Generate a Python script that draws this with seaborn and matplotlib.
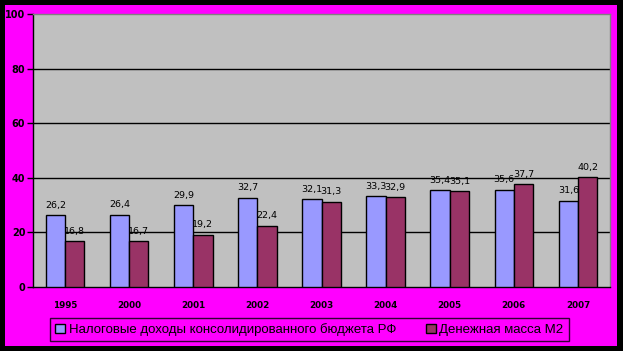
import matplotlib
matplotlib.use("Agg")
import matplotlib.pyplot as plt
import seaborn as sns
import pandas as pd
from matplotlib.patches import Patch

years = ["1995", "2000", "2001", "2002", "2003", "2004", "2005", "2006", "2007"]
tax_revenue = [26.2, 26.4, 29.9, 32.7, 32.1, 33.3, 35.4, 35.6, 31.6]
money_m2 = [16.8, 16.7, 19.2, 22.4, 31.3, 32.9, 35.1, 37.7, 40.2]
series_names = ["Налоговые доходы консолидированного бюджета РФ", "Денежная масса М2"]
colors = ["#9999FF", "#993366"]
yticks = [0, 20, 40, 60, 80, 100]

df = pd.DataFrame({
    "year": years * 2,
    "value": tax_revenue + money_m2,
    "series": [series_names[0]] * len(years) + [series_names[1]] * len(years),
})

sns.set_style("white")
plt.rcParams["font.family"] = ["DejaVu Sans"]
plt.rcParams["text.color"] = "black"
plt.rcParams["xtick.color"] = "black"
plt.rcParams["ytick.color"] = "black"
plt.rcParams["axes.labelcolor"] = "black"

W, H = 623, 351
fig = plt.figure(figsize=(W / 100, H / 100), dpi=100)
fig.patch.set_facecolor("black")

bg = fig.add_axes([5 / W, 5 / H, 612 / W, 341 / H], zorder=-10)
bg.set_facecolor("#FF00FF")
bg.set_xticks([])
bg.set_yticks([])
for s in bg.spines.values():
    s.set_visible(False)

ax = fig.add_axes([33 / W, (H - 287) / H, 577 / W, 273 / H], zorder=1)
ax.set_facecolor("#C0C0C0")

sns.barplot(data=df, x="year", y="value", hue="series", palette=colors, saturation=1,
            edgecolor="black", linewidth=1, width=0.6, ax=ax, legend=False, zorder=3)

for y in yticks[1:-1]:
    ax.axhline(y, color="black", linewidth=1, zorder=1)

for cont in ax.containers:
    labels = [f"{v:.1f}".replace(".", ",") for v in cont.datavalues]
    ax.bar_label(cont, labels=labels, padding=4, fontsize=6.8, color="black")

ax.set_ylim(0, 100)
ax.set_xlim(-0.5, len(years) - 0.5)
ax.set_yticks(yticks)
ax.set_yticklabels([str(t) for t in yticks], fontsize=7, fontweight="bold")
ax.set_xticks(range(len(years)))
ax.set_xticklabels(years, fontsize=6.3, fontweight="bold")
ax.tick_params(axis="x", length=0, pad=10)
ax.set_xticks([i - 0.5 for i in range(len(years) + 1)], minor=True)
ax.tick_params(axis="x", which="minor", length=5, width=1, color="black", direction="out")
ax.tick_params(axis="y", length=4, width=1, color="black", direction="out", pad=1.5, left=True)
ax.set_xlabel("")
ax.set_ylabel("")

for side in ["left", "bottom"]:
    ax.spines[side].set_visible(True)
    ax.spines[side].set_color("black")
    ax.spines[side].set_linewidth(1)
for side in ["top", "right"]:
    ax.spines[side].set_visible(True)
    ax.spines[side].set_color("#808080")
    ax.spines[side].set_linewidth(1)

handles = [Patch(facecolor=c, edgecolor="black", linewidth=1) for c in colors]
leg = fig.legend(handles, series_names, loc="center", bbox_to_anchor=(309.5 / W, (H - 329.5) / H),
                 ncol=2, frameon=True, prop={"family": "Liberation Sans", "size": 9.5},
                 handlelength=0.75, handleheight=0.75,
                 handletextpad=0.3, columnspacing=2.2, borderpad=0.4, fancybox=False)
leg.get_frame().set_facecolor("#FF00FF")
leg.get_frame().set_edgecolor("black")
leg.get_frame().set_linewidth(1)
leg.set_zorder(5)
for t in leg.get_texts():
    t.set_color("black")

fig.savefig("out.png", dpi=100, facecolor=fig.get_facecolor())
